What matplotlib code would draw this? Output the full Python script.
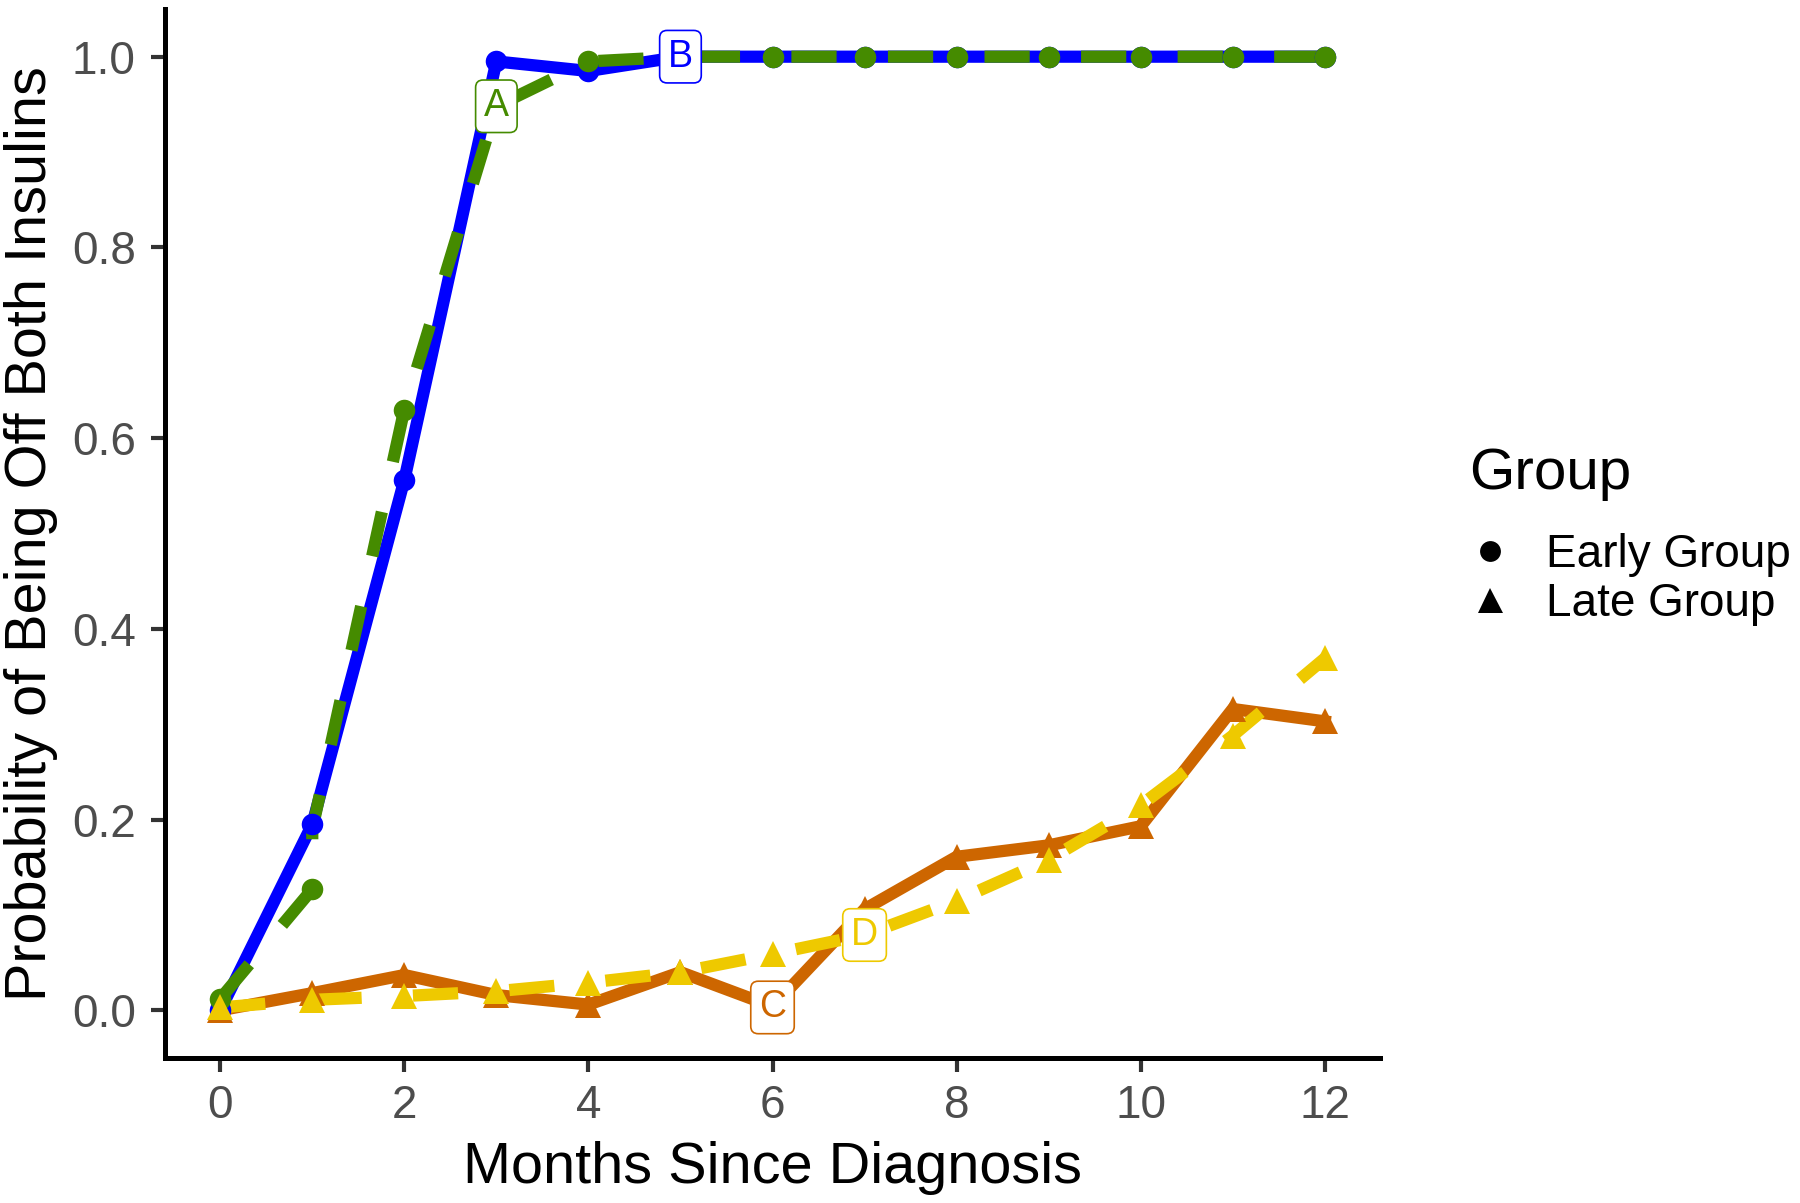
import matplotlib
matplotlib.use('Agg')
import matplotlib.pyplot as plt
from matplotlib.lines import Line2D

plt.rcParams['font.family'] = ['Liberation Sans', 'DejaVu Sans']

# datos
meses = [0, 1, 2, 3, 4, 5, 6, 7, 8, 9, 10, 11, 12]
temprano_solido = [0.0, 0.195, 0.556, 0.995, 0.985, 1.0, 1.0, 1.0, 1.0, 1.0, 1.0, 1.0, 1.0]
# la serie verde repite el mes 1 (dos valores)
meses_verde = [0, 1, 1, 2, 3, 4, 5, 6, 7, 8, 9, 10, 11, 12]
temprano_disc = [0.012, 0.127, 0.19, 0.63, 0.948, 0.995, 1.0, 1.0, 1.0, 1.0, 1.0, 1.0, 1.0, 1.0]
tardio_solido = [0.0, 0.018, 0.037, 0.016, 0.006, 0.040, 0.004, 0.106, 0.161, 0.173, 0.193, 0.316, 0.303]
tardio_disc = [0.003, 0.011, 0.015, 0.020, 0.029, 0.040, 0.059, 0.079, 0.115, 0.158, 0.215, 0.288, 0.369]

etiquetas = ['A', 'B', 'C', 'D']
etiq_x = [3, 5, 6, 7]
etiq_y = [0.948, 1.0, 0.003, 0.079]

azul = '#0000FF'
verde = '#458B00'
naranja = '#CD6600'
amarillo = '#EEC900'
etiq_col = [verde, azul, naranja, amarillo]

fig = plt.figure(figsize=(18, 12.03), dpi=100)
ax = fig.add_axes([165 / 1800, 1 - 1058 / 1203, (1380 - 165) / 1800, (1058 - 9) / 1203])

lw = 8.8
guion = (0, (3.7, 4.2))
ax.plot(meses, temprano_solido, color=azul, lw=lw, zorder=2, solid_joinstyle='miter')
ax.plot(meses_verde, temprano_disc, color=verde, lw=lw, ls=guion, zorder=2.1)
ax.plot(meses, tardio_solido, color=naranja, lw=lw, zorder=2, solid_joinstyle='miter')
ax.plot(meses, tardio_disc, color=amarillo, lw=lw, ls=guion, zorder=2.1)

ax.plot(meses, temprano_solido, 'o', color=azul, ms=15.5, mew=0, zorder=3)
ax.plot(meses_verde[:2] + meses_verde[3:], temprano_disc[:2] + temprano_disc[3:], 'o',
        color=verde, ms=15.5, mew=0, zorder=3.1)
ax.plot(meses, tardio_solido, '^', color=naranja, ms=19, mew=0, zorder=3)
ax.plot(meses, tardio_disc, '^', color=amarillo, ms=19, mew=0, zorder=3.1)

for t, x, y, c in zip(etiquetas, etiq_x, etiq_y, etiq_col):
    ax.text(x, y, t, color=c, fontsize=27, ha='center', va='center', zorder=5,
            bbox=dict(boxstyle='round,pad=0.22,rounding_size=0.2', fc='white', ec=c, lw=1.2))

ax.set_xlim(-0.6, 12.6)
ax.set_ylim(-0.05, 1.05)
ax.set_xticks([0, 2, 4, 6, 8, 10, 12])
ax.set_yticks([0.0, 0.2, 0.4, 0.6, 0.8, 1.0])
ax.set_yticklabels(['0.0', '0.2', '0.4', '0.6', '0.8', '1.0'])
ax.tick_params(labelsize=33, labelcolor='#4D4D4D', color='#333333', width=3, length=10)
ax.tick_params(axis='x', pad=9)
ax.tick_params(axis='y', pad=11)
for s in ['top', 'right']:
    ax.spines[s].set_visible(False)
for s in ['left', 'bottom']:
    ax.spines[s].set_linewidth(3.6)
    ax.spines[s].set_capstyle('projecting')

ax.set_xlabel('Months Since Diagnosis', fontsize=41.5, labelpad=9)
ax.set_ylabel('Probability of Being Off Both Insulins', fontsize=41.5, labelpad=10)

# leyenda
fig.text(1469 / 1800, 1 - 474 / 1203, 'Group', fontsize=42, ha='left', va='center')
manejadores = [Line2D([], [], marker='o', color='black', ls='none', ms=15, mew=0),
               Line2D([], [], marker='^', color='black', ls='none', ms=18, mew=0)]
fig.legend(manejadores, ['Early Group', 'Late Group'], loc='upper left',
           bbox_to_anchor=(1467 / 1800, 1 - 533 / 1203), frameon=False, fontsize=33,
           borderpad=0, borderaxespad=0, handlelength=1.0, handletextpad=0.72,
           labelspacing=0.12, handleheight=0.7)

fig.savefig('out.png', dpi=100)
